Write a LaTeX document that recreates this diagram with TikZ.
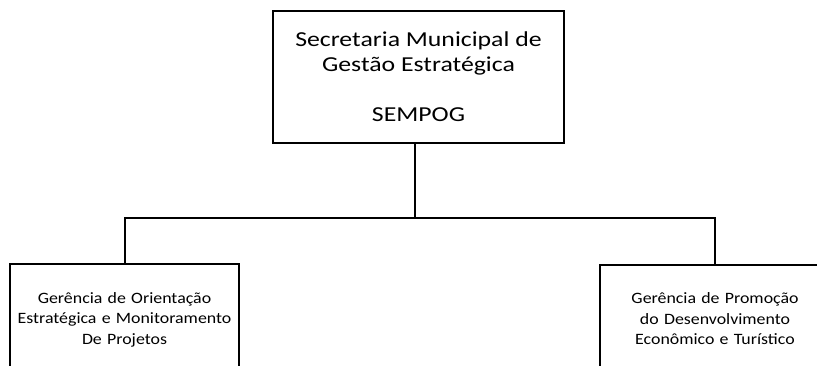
\documentclass[tikz,border=0pt]{standalone}
\usepackage{fontspec}
\setmainfont{Carlito}
\newfontfamily\widefont[FakeStretch=1.21]{Carlito}
\newfontfamily\subfont[FakeStretch=1.13]{Carlito}
\usepackage{tikz}

\begin{document}
\begin{tikzpicture}[x=1pt, y=-1pt, line width=2pt,
  main node/.style={draw, align=center},
  sub node/.style={main node, anchor=north, minimum width=225pt, text width=223pt,
    inner ysep=0pt, text height=39pt, text depth=120pt,
    font=\subfont\fontsize{15.8}{20.5}\selectfont}]
\useasboundingbox (0,0) rectangle (817,366);
\clip (0,0) rectangle (817,366);
\node[main node, minimum width=291pt, minimum height=132pt,
  font=\widefont\fontsize{21.3}{25}\selectfont] (a) at (418.5,77)
  {Secretaria Municipal de\\Gestão Estratégica\\[25pt]SEMPOG};
\node[sub node] (b) at (124.5,263)
  {Gerência de Orientação\\Estratégica e Monitoramento\\De Projetos};
\node[sub node] (c) at (715,264)
  {Gerência de Promoção\\do Desenvolvimento\\Econômico e Turístico};
\coordinate (h) at (415,218);
\draw (a.south -| h) -- (h);
\draw (b.north) |- (h) -| (c.north);
\end{tikzpicture}
\end{document}
